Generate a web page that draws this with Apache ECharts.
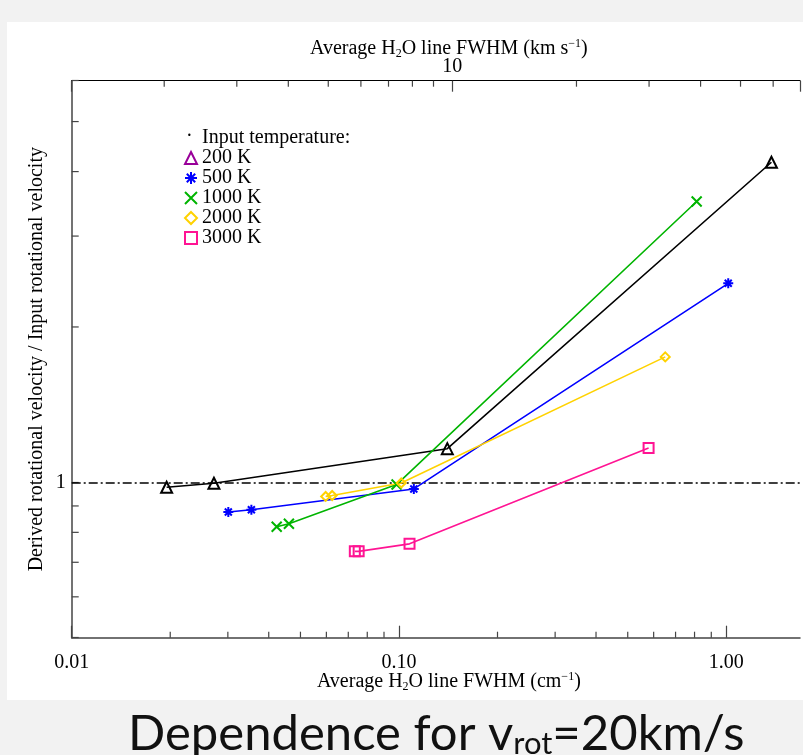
<!DOCTYPE html>
<html>
<head>
<meta charset="utf-8">
<script src="https://cdn.jsdelivr.net/npm/echarts@6/dist/echarts.min.js"></script>
<style>
html,body{margin:0;padding:0;background:#f2f2f2}
#main{width:803px;height:755px}
</style>
</head>
<body>
<div id="main"></div>
<script>
// values (x: FWHM in cm-1, y: velocity ratio)
var x200 = [0.0195, 0.0272, 0.1405, 1.374];
var y200 = [0.978, 0.996, 1.162, 4.17];
var x500 = [0.0301, 0.0354, 0.111, 1.014];
var y500 = [0.876, 0.885, 0.971, 2.43];
var x1000 = [0.0423, 0.0461, 0.0983, 0.812];
var y1000 = [0.820, 0.831, 0.990, 3.50];
var x2000 = [0.0597, 0.0625, 0.1016, 0.651];
var y2000 = [0.939, 0.943, 0.997, 1.75];
var x3000 = [0.0733, 0.0753, 0.1077, 0.579];
var y3000 = [0.735, 0.735, 0.760, 1.166];

var names = ['200 K', '500 K', '1000 K', '2000 K', '3000 K'];
var colors = ['#000000', '#0000ff', '#00b400', '#ffd200', '#ff1493'];
var legendColors = ['#990099', '#0000ff', '#00b400', '#ffd200', '#ff1493'];

// axis ranges and tick positions
var xMin = 0.01, xMax = 1.68;
var yMin = 0.5, yMax = 6;
var kmMin = 1.193, kmMax = 69.7;
var xMinor = [0.02, 0.03, 0.04, 0.05, 0.06, 0.07, 0.08, 0.09, 0.2, 0.3, 0.4, 0.5, 0.6, 0.7, 0.8, 0.9];
var yMinor = [0.6, 0.7, 0.8, 0.9, 2, 3, 4, 5];
var kmMinor = [2, 3, 4, 5, 6, 7, 8, 9, 20, 30, 40, 50, 60];

var starPath = 'path://M5,0L5,10M0,5L10,5M1.5,1.5L8.5,8.5M8.5,1.5L1.5,8.5';
var crossPath = 'path://M0,0L10,10M10,0L0,10';
var symbols = ['triangle', starPath, crossPath, 'diamond', 'rect'];
var sizes = [11, 10, 10, 9, 10];

function pairs(xs, ys) {
    var out = [];
    for (var i = 0; i < xs.length; i++) out.push([xs[i], ys[i]]);
    return out;
}

var serif = 'Liberation Serif';
var allX = [x200, x500, x1000, x2000, x3000];
var allY = [y200, y500, y1000, y2000, y3000];

var series = [];
for (var i = 0; i < names.length; i++) {
    var s = {
        name: names[i],
        type: 'line',
        data: pairs(allX[i], allY[i]),
        symbol: symbols[i],
        symbolSize: sizes[i],
        lineStyle: {color: colors[i], width: 1.6},
        itemStyle: {color: 'rgba(255,255,255,0)', borderColor: colors[i], borderWidth: 2},
        z: 5
    };
    if (i == 0) {
        s.markLine = {
            silent: true,
            symbol: 'none',
            label: {show: false},
            lineStyle: {color: '#000', width: 1.5, type: [9, 3, 2, 3]},
            data: [{yAxis: 1}]
        };
    }
    series.push(s);
}

// minor ticks drawn through the axes
function tickSeries(values, xIndex, fixed, kind, len) {
    return {
        type: 'custom',
        xAxisIndex: xIndex,
        yAxisIndex: 0,
        silent: true,
        data: values.map(function (v) { return kind == 'y' ? [fixed, v] : [v, fixed]; }),
        renderItem: function (params, api) {
            var p = api.coord([api.value(0), api.value(1)]);
            var x2 = p[0], y2 = p[1];
            if (kind == 'bottom') y2 = p[1] - len;
            if (kind == 'top') y2 = p[1] + len;
            if (kind == 'y') x2 = p[0] + len;
            return {type: 'line', shape: {x1: p[0], y1: p[1], x2: x2, y2: y2},
                style: {stroke: '#444', lineWidth: 1.2}};
        }
    };
}
series.push(tickSeries(xMinor, 0, yMin, 'bottom', 6));
series.push(tickSeries(yMinor, 0, xMin, 'y', 7));
series.push(tickSeries(kmMinor, 1, yMax, 'top', 6));

function isDecade(v) {
    var l = Math.log10(v);
    return Math.abs(l - Math.round(l)) < 1e-6;
}

var subSup = {
    sub: {fontSize: 12, fontFamily: serif, verticalAlign: 'bottom', lineHeight: 14},
    sup: {fontSize: 12, fontFamily: serif, verticalAlign: 'top', lineHeight: 14}
};

var legendData = names.map(function (n, i) {
    return {
        name: n,
        icon: symbols[i],
        itemStyle: {color: 'rgba(255,255,255,0)', borderColor: legendColors[i], borderWidth: 2}
    };
});

var myChart = echarts.init(document.getElementById('main'));
var option = {
    backgroundColor: '#f2f2f2',
    animation: false,
    grid: {left: 71.7, right: 0, top: 80.7, bottom: 117.3},
    legend: {
        data: legendData,
        orient: 'vertical',
        left: 179,
        top: 143,
        itemWidth: 12,
        itemHeight: 12,
        itemGap: 0,
        textStyle: {fontFamily: serif, fontSize: 20, color: '#000', lineHeight: 16}
    },
    graphic: [
        {type: 'rect', z: -10, shape: {x: 7, y: 22, width: 796, height: 678}, style: {fill: '#fff'}},
        {type: 'text', left: 186, top: 127,
            style: {text: '·', font: '20px "Liberation Serif"', fill: '#000'}},
        {type: 'text', left: 202, top: 128,
            style: {text: 'Input temperature:', font: '20px "Liberation Serif"', fill: '#000'}},
        {type: 'text', left: 128, top: 710,
            style: {
                text: 'Dependence for v{s|rot}=20km/s',
                font: '49px Lato', fill: '#111',
                rich: {s: {font: '31px Lato', fill: '#111', verticalAlign: 'bottom', lineHeight: 38}}
            }}
    ],
    xAxis: [
        {
            type: 'log',
            min: xMin,
            max: xMax,
            position: 'bottom',
            name: 'Average H{sub|2}O line FWHM (cm{sup|−1})',
            nameLocation: 'middle',
            nameGap: 33,
            nameMoveOverlap: false,
            nameTextStyle: {fontFamily: serif, fontSize: 20, color: '#000', lineHeight: 22, padding: [0, 0, 0, 26], rich: subSup},
            axisLine: {lineStyle: {color: '#444', width: 1.5}},
            axisTick: {inside: true, length: 12, lineStyle: {color: '#444', width: 1.2}},
            splitLine: {show: false},
            axisLabel: {
                fontFamily: serif, fontSize: 20, color: '#000', margin: 15, showMaxLabel: false,
                formatter: function (v) { return isDecade(v) ? v.toFixed(2) : ''; }
            }
        },
        {
            type: 'log',
            min: kmMin,
            max: kmMax,
            position: 'top',
            name: 'Average H{sub|2}O line FWHM (km s{sup|−1})',
            nameLocation: 'middle',
            nameGap: 21,
            nameMoveOverlap: false,
            nameTextStyle: {fontFamily: serif, fontSize: 20, color: '#000', lineHeight: 22, padding: [0, 0, 0, 26], rich: subSup},
            axisLine: {lineStyle: {color: '#000', width: 1.2}},
            axisTick: {inside: true, length: 11, lineStyle: {color: '#444', width: 1.2}},
            splitLine: {show: false},
            axisLabel: {
                fontFamily: serif, fontSize: 20, color: '#000', margin: 4,
                formatter: function (v) { return Math.abs(v - 10) < 1e-6 ? '10' : ''; }
            }
        }
    ],
    yAxis: {
        type: 'log',
        min: yMin,
        max: yMax,
        name: 'Derived rotational velocity / Input rotational velocity',
        nameLocation: 'middle',
        nameGap: 25,
        nameMoveOverlap: false,
        nameTextStyle: {fontFamily: serif, fontSize: 20, color: '#000'},
        axisLine: {lineStyle: {color: '#444', width: 1.5}},
        axisTick: {inside: true, length: 7, lineStyle: {color: '#444', width: 1.2}},
        splitLine: {show: false},
        axisLabel: {
            fontFamily: serif, fontSize: 20, color: '#000', margin: 6,
            formatter: function (v) { return Math.abs(v - 1) < 1e-6 ? '1' : ''; }
        }
    },
    series: series
};
myChart.setOption(option);
</script>
</body>
</html>
